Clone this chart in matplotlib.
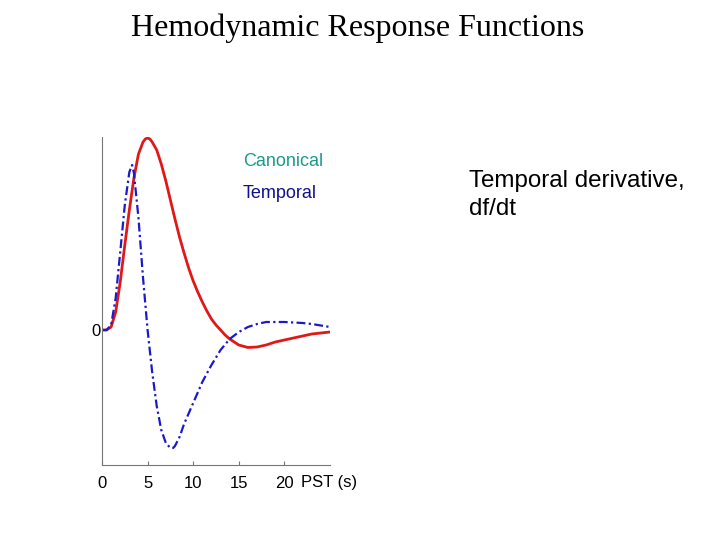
import numpy as np
import matplotlib.pyplot as plt

# curves (arbitrary units, zero = baseline)
t_canon = [0, 0.5, 1, 1.5, 2, 2.5, 3, 3.5, 4, 4.5, 4.75, 5, 5.25, 5.5, 6, 6.5, 7, 7.5, 8, 8.5, 9, 9.5,
           10, 10.5, 11, 11.5, 12, 12.5, 13, 13.5, 14, 14.5, 15, 16, 17, 18, 19, 20, 21, 22, 23, 24, 25]
canonical = [0, 0, 3, 18, 48, 85, 120, 152, 176, 188, 191, 192, 191, 188, 180, 166, 149, 130, 111, 93, 77, 62,
             49, 38, 28, 19, 11, 5, 0, -5, -9, -12, -15, -17.5, -17, -15, -12, -10, -8, -6, -4, -3, -2]

t_temp = [0, 0.5, 1, 1.5, 2, 2.5, 3, 3.3, 3.5, 4, 4.5, 5, 5.5, 6, 6.5, 7, 7.5, 7.8, 8, 8.5,
          9, 10, 11, 12, 13, 14, 15, 16, 17, 18, 19, 20, 21, 22, 23, 24, 25]
temporal = [0, 0, 5, 32, 78, 125, 158, 165, 157, 112, 52, 0, -42, -76, -100, -113, -118, -118, -116, -107,
            -94, -73, -52, -35, -20, -9, -2, 3, 6, 8, 8, 8, 7.5, 7, 6, 4.5, 3]

xticks = [0, 5, 10, 15, 20]

fig = plt.figure(figsize=(7.2, 5.4), dpi=100)
fig.text(0.497, 1 - 28 / 540, "Hemodynamic Response Functions", ha="center", va="center",
         fontsize=23, family="Liberation Serif")

ax = fig.add_axes([102 / 720, 1 - 465 / 540, 228 / 720, 328 / 540])
ax.plot(t_canon, canonical, color="#e01818", lw=2)
ax.plot(t_temp, temporal, color="#1a1acc", lw=1.6, dashes=(4, 1.5, 1, 1.5))
ax.set_xlim(0, 25)
ax.set_ylim(-135, 193)
for s in ["top", "right"]:
    ax.spines[s].set_visible(False)
for s in ["left", "bottom"]:
    ax.spines[s].set_color("#777777")
    ax.spines[s].set_linewidth(0.8)
ax.set_xticks(xticks)
ax.set_xticklabels([str(v) for v in xticks], family="Liberation Sans", fontsize=12)
ax.set_yticks([0])
ax.set_yticklabels(["0"], family="Liberation Sans", fontsize=12)
ax.tick_params(axis="x", direction="in", length=3, color="#777777", pad=8)
ax.tick_params(axis="y", length=0, pad=1)
fig.text(301 / 720, 1 - 483 / 540, "PST (s)", ha="left", va="center",
         family="Liberation Sans", fontsize=12)

fig.text(243 / 720, 1 - 161 / 540, "Canonical", color="#1a9a8a", fontsize=13,
         family="Liberation Sans", va="center")
fig.text(243 / 720, 1 - 194 / 540, "Temporal", color="#10108a", fontsize=13,
         family="Liberation Sans", va="center")
fig.text(469 / 720, 1 - 195 / 540, "Temporal derivative,\ndf/dt", fontsize=17.4,
         family="Liberation Sans", va="center", linespacing=1.4)

fig.savefig("out.png")
